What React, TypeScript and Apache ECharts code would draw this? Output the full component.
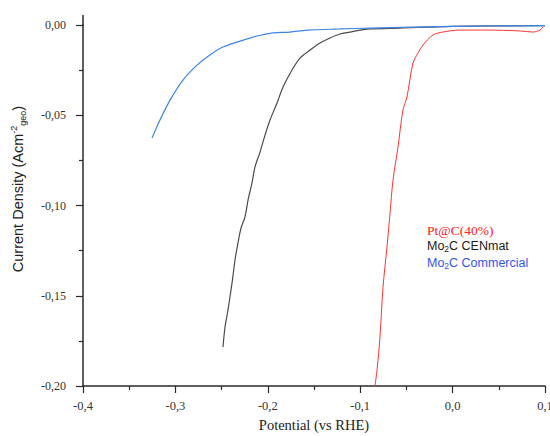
import React, { useEffect, useRef } from "react";
import * as echarts from "echarts";

const ptX = [-0.084, -0.0818, -0.0786, -0.0753, -0.071, -0.0677, -0.0645, -0.0591, -0.0537, -0.0494, -0.0429, -0.0374, -0.032, -0.0212, -0.0104, 0.0076, 0.0372, 0.0729, 0.087, 0.0946, 0.0978];
const ptY = [-0.2, -0.1911, -0.1729, -0.1452, -0.123, -0.1042, -0.0859, -0.0676, -0.0471, -0.0399, -0.0211, -0.0155, -0.0111, -0.0055, -0.0039, -0.0028, -0.0028, -0.0033, -0.0039, -0.0028, -0.0011];

const cenX = [-0.2485, -0.2463, -0.2431, -0.2387, -0.2355, -0.2323, -0.229, -0.2247, -0.2214, -0.2171, -0.2139, -0.2084, -0.203, -0.1976, -0.19, -0.1835, -0.1738, -0.1652, -0.1543, -0.1435, -0.1327, -0.1219, -0.111, -0.1002, -0.0894, -0.0569, 0.0, 0.1];
const cenY = [-0.1784, -0.1673, -0.1579, -0.1429, -0.1302, -0.1208, -0.1125, -0.1064, -0.097, -0.0875, -0.0787, -0.0704, -0.061, -0.0526, -0.0432, -0.0343, -0.0249, -0.0183, -0.0139, -0.01, -0.0072, -0.005, -0.0039, -0.0028, -0.0022, -0.0017, -0.0008, -0.0003];

const comX = [-0.3253, -0.3167, -0.3058, -0.2918, -0.2766, -0.2626, -0.2485, -0.2301, -0.2117, -0.1944, -0.176, -0.1576, -0.1219, -0.0894, 0.0, 0.1];
const comY = [-0.0626, -0.0526, -0.0416, -0.0305, -0.0222, -0.0166, -0.0122, -0.0089, -0.0061, -0.0044, -0.0039, -0.0028, -0.0022, -0.0017, -0.0008, -0.0003];

const xTicks = { min: -0.4, max: 0.1, interval: 0.1 };
const yTicks = { min: -0.2, max: 0, interval: 0.05 };

const pairs = (xs: number[], ys: number[]) => xs.map((x, i) => [x, ys[i]]);

const SERIF = "'Liberation Serif', 'DejaVu Serif', serif";
const SANS = "'Liberation Sans', Arial, sans-serif";

export default function App() {
  const ref = useRef<HTMLDivElement>(null);
  useEffect(() => {
    if (!ref.current) return;
    const chart = echarts.init(ref.current, null, { renderer: "svg" });
    const axisColor = "#2a2a2a";
    chart.setOption({
      animation: false,
      backgroundColor: "#fff",
      grid: { left: 83, right: 5, top: 25, bottom: 50, containLabel: false, outerBoundsMode: "none" },
      xAxis: {
        type: "value",
        min: xTicks.min,
        max: xTicks.max,
        interval: xTicks.interval,
        name: "Potential (vs RHE)",
        nameLocation: "middle",
        nameGap: 31,
        nameTextStyle: { fontFamily: SERIF, fontSize: 14.5, color: "#222" },
        axisLine: { onZero: false, lineStyle: { color: axisColor, width: 1.5 } },
        axisTick: { inside: false, length: 7, lineStyle: { color: axisColor, width: 1.2 } },
        minorTick: { show: true, splitNumber: 2, length: 4, lineStyle: { color: axisColor, width: 1.2 } },
        splitLine: { show: false },
        axisLabel: {
          margin: 13,
          fontFamily: SERIF,
          fontSize: 12.5,
          color: "#333",
          formatter: (v: number) => v.toFixed(1).replace(".", ","),
        },
      },
      yAxis: {
        type: "value",
        min: yTicks.min,
        max: yTicks.max,
        interval: yTicks.interval,
        axisLine: { onZero: false, lineStyle: { color: axisColor, width: 1.5 } },
        axisTick: { inside: false, length: 7, lineStyle: { color: axisColor, width: 1.2 } },
        minorTick: { show: true, splitNumber: 2, length: 4, lineStyle: { color: axisColor, width: 1.2 } },
        splitLine: { show: false },
        axisLabel: {
          margin: 17,
          fontFamily: SERIF,
          fontSize: 12,
          color: "#333",
          formatter: (v: number) => v.toFixed(2).replace(".", ","),
        },
      },
      graphic: [
        {
          type: "line",
          shape: { x1: 83, y1: 15, x2: 83, y2: 26 },
          style: { stroke: axisColor, lineWidth: 1.5 },
        },
        {
          type: "text",
          x: 18,
          y: 189,
          rotation: Math.PI / 2,
          style: {
            text: "Current Density (Acm{sup|-2}{sub|geo})",
            fill: "#222",
            font: `14.5px ${SANS}`,
            align: "center",
            verticalAlign: "middle",
            rich: {
              sup: { fontFamily: SANS, fontSize: 9, fill: "#222", verticalAlign: "top", padding: [0, 0, 9, 0] },
              sub: { fontFamily: SANS, fontSize: 9, fill: "#222", verticalAlign: "bottom", padding: [7, 0, 0, 0] },
            },
          },
        },
        {
          type: "text",
          left: 427,
          top: 223,
          style: { text: "Pt@C(40%)", fill: "#ff2020", font: `13.5px ${SERIF}` },
        },
        {
          type: "text",
          left: 427,
          top: 239,
          style: {
            text: "Mo{sub|2}C CENmat",
            fill: "#1a1a1a",
            font: `12.5px ${SANS}`,
            rich: { sub: { fontSize: 8.5, fill: "#1a1a1a", fontFamily: SANS, verticalAlign: "bottom", padding: [6, 0, 0, 0] } },
          },
        },
        {
          type: "text",
          left: 427,
          top: 256,
          style: {
            text: "Mo{sub|2}C Commercial",
            fill: "#3355ee",
            font: `12.5px ${SANS}`,
            rich: { sub: { fontSize: 8.5, fill: "#3355ee", fontFamily: SANS, verticalAlign: "bottom", padding: [6, 0, 0, 0] } },
          },
        },
      ],
      series: [
        {
          name: "Pt@C(40%)",
          type: "line",
          data: pairs(ptX, ptY),
          showSymbol: false,
          smooth: 0.3,
          lineStyle: { color: "#ff3333", width: 1 },
          clip: true,
        },
        {
          name: "Mo2C CENmat",
          type: "line",
          data: pairs(cenX, cenY),
          showSymbol: false,
          smooth: 0.3,
          lineStyle: { color: "#4a4a4a", width: 1.2 },
        },
        {
          name: "Mo2C Commercial",
          type: "line",
          data: pairs(comX, comY),
          showSymbol: false,
          smooth: 0.3,
          lineStyle: { color: "#3f85e6", width: 1.2 },
        },
      ],
    });
    return () => chart.dispose();
  }, []);
  return <div ref={ref} style={{ width: 550, height: 436, position: "absolute", left: 0, top: 0 }} />;
}
